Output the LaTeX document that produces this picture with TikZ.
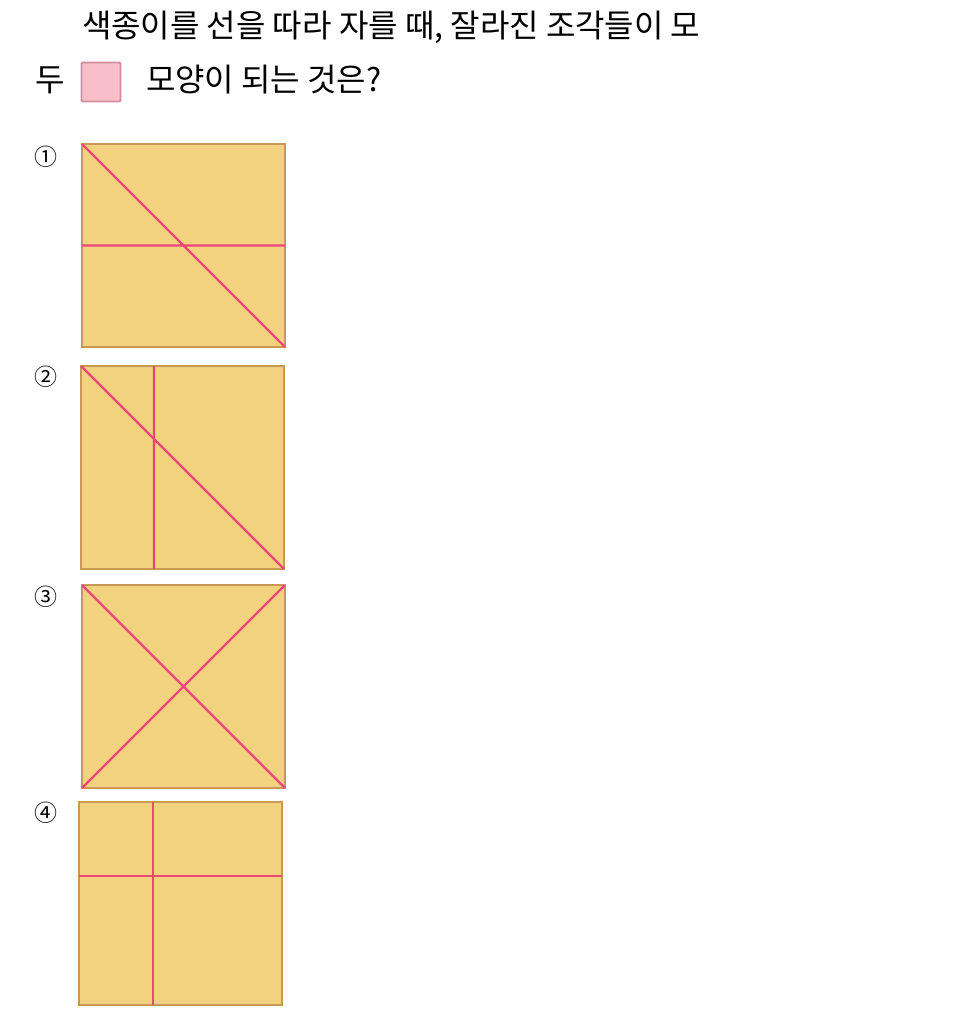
\documentclass[tikz,border=0pt]{standalone}
\usepackage{fontspec}
\setmainfont{Noto Sans CJK KR}
\usetikzlibrary{positioning,calc}

\definecolor{paperfill}{RGB}{242,210,126}
\definecolor{paperedge}{RGB}{200,152,88}
\definecolor{cutline}{RGB}{236,70,122}
\definecolor{pinkfill}{RGB}{249,191,200}
\definecolor{pinkedge}{RGB}{212,140,162}

\begin{document}
\begin{tikzpicture}[x=1pt, y=-1pt]
        \tikzstyle{every node}=[inner sep=0pt, outer sep=0pt]
        \tikzstyle{question}=[anchor=west, font=\fontsize{32}{32}\selectfont]
        \tikzstyle{number}=[font=\fontsize{23}{23}\selectfont]
        \tikzstyle{paper}=[draw=paperedge, fill=paperfill, line width=2pt, anchor=north west, minimum width=203pt, minimum height=203pt]
        \tikzstyle{cut}=[draw=cutline, line width=2.2pt]

        \useasboundingbox (0,0) rectangle (973,1023);

        % question
        \node (q1)   [question] at (82,27) {색종이를 선을 따라 자를 때, 잘라진 조각들이 모};
        \node (q2a)  [question] at (35,80) {두};
        \node (pink) [draw=pinkedge, fill=pinkfill, line width=1.8pt, minimum size=39pt, rounded corners=1pt] at (101,82) {};
        \node (q2b)  [question] at (146,80) {모양이 되는 것은?};

        % choices
        \node (n1) [number] at (46,157) {①};
        \node (n2) [number] at (46,377) {②};
        \node (n3) [number] at (46,597) {③};
        \node (n4) [number] at (46,813) {④};

        \node (sq1) [paper] at (82,144) {};
        \node (sq2) [paper] at (81,366) {};
        \node (sq3) [paper] at (82,585) {};
        \node (sq4) [paper] at (79,802) {};

        \draw[cut] (sq1.north west) -- (sq1.south east)
                   (sq1.west) -- (sq1.east);
        \draw[cut] (sq2.north west) -- (sq2.south east)
                   ($(sq2.north west)!.36!(sq2.north east)$) -- ($(sq2.south west)!.36!(sq2.south east)$);
        \draw[cut] (sq3.north west) -- (sq3.south east)
                   (sq3.south west) -- (sq3.north east);
        \draw[cut] ($(sq4.north west)!.365!(sq4.north east)$) -- ($(sq4.south west)!.365!(sq4.south east)$)
                   ($(sq4.north west)!.365!(sq4.south west)$) -- ($(sq4.north east)!.365!(sq4.south east)$);

    \end{tikzpicture}
\end{document}
